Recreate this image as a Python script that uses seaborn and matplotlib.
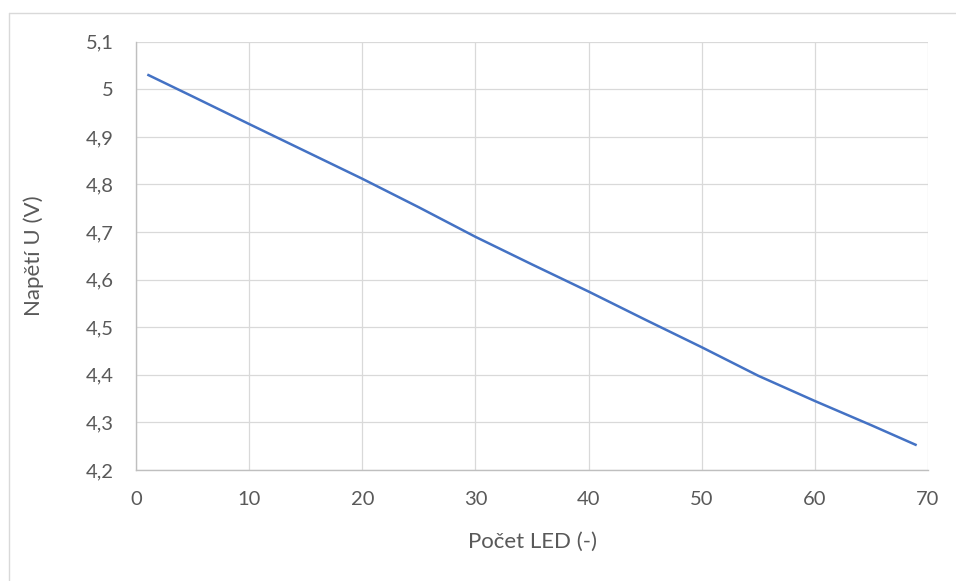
import matplotlib
matplotlib.use("Agg")
import matplotlib.pyplot as plt
from matplotlib.lines import Line2D
import pandas as pd
import seaborn as sns

# Measured supply voltage versus number of connected LEDs
led_count = [1, 5, 10, 14, 20, 25, 30, 35, 40, 45, 50, 55, 60, 65, 69]
voltage = [5.031, 4.985, 4.927, 4.881, 4.812, 4.752, 4.690, 4.632, 4.575,
           4.516, 4.458, 4.398, 4.345, 4.294, 4.252]

x_ticks = [0, 10, 20, 30, 40, 50, 60, 70]
y_ticks = [4.2, 4.3, 4.4, 4.5, 4.6, 4.7, 4.8, 4.9, 5.0, 5.1]
y_tick_labels = ["4,2", "4,3", "4,4", "4,5", "4,6", "4,7", "4,8", "4,9", "5", "5,1"]

x_label = "Počet LED (-)"
y_label = "Napětí U (V)"

df = pd.DataFrame({"n": led_count, "u": voltage})

sns.set_theme(style="white")
plt.rcParams["font.family"] = ["Lato", "DejaVu Sans"]

W, H, DPI = 956, 581, 100
fig = plt.figure(figsize=(W / DPI, H / DPI), dpi=DPI)
ax = fig.add_axes([136 / W, 1 - 470 / H, (928 - 136) / W, (470 - 41.7) / H])

sns.lineplot(data=df, x="n", y="u", ax=ax, color="#4472C4", linewidth=1.8,
             solid_capstyle="butt", zorder=3)

ax.set_xlim(0, 70)
ax.set_ylim(4.2, 5.1)
ax.set_xticks(x_ticks)
ax.set_xticklabels([str(t) for t in x_ticks])
ax.set_yticks(y_ticks)
ax.set_yticklabels(y_tick_labels)

ax.grid(True, color="#D9D9D9", linewidth=0.9, zorder=0)
ax.set_axisbelow(True)
for side in ("top", "right"):
    ax.spines[side].set_visible(False)
for side in ("left", "bottom"):
    ax.spines[side].set_color("#BFBFBF")
    ax.spines[side].set_linewidth(1.0)

ax.tick_params(axis="both", length=0, labelsize=14.5, colors="#595959")
ax.tick_params(axis="y", pad=16)
ax.tick_params(axis="x", pad=15)

ax.set_xlabel(x_label, fontsize=16, color="#595959", labelpad=17)
ax.set_ylabel(y_label, fontsize=16, color="#595959", labelpad=30)

# Chart frame (top and left edges)
fig.add_artist(Line2D([9 / W, 1.0], [1 - 13 / H, 1 - 13 / H],
                      transform=fig.transFigure, color="#D9D9D9", linewidth=1.0))
fig.add_artist(Line2D([9 / W, 9 / W], [0.0, 1 - 13 / H],
                      transform=fig.transFigure, color="#D9D9D9", linewidth=1.0))

fig.savefig("out.png", dpi=DPI, facecolor="white")
